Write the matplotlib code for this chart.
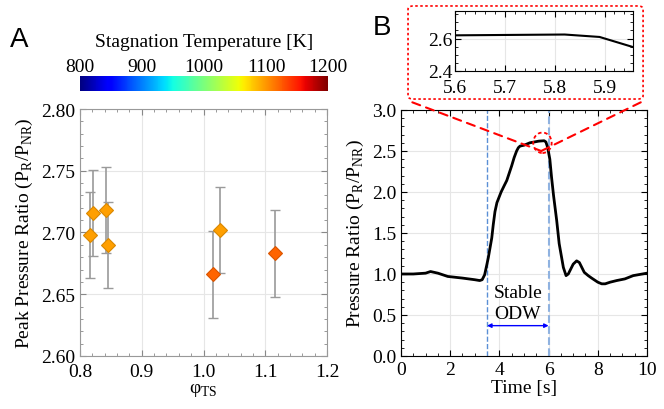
import numpy as np
import matplotlib
import matplotlib.pyplot as plt
from matplotlib.patches import Ellipse, FancyBboxPatch, ConnectionPatch
from matplotlib.ticker import MultipleLocator

plt.rcParams['font.family'] = ['Liberation Serif', 'DejaVu Serif']
plt.rcParams['mathtext.fontset'] = 'custom'
plt.rcParams['mathtext.rm'] = 'Liberation Serif'

# Panel A data
phi_ts = [0.816, 0.821, 0.842, 0.845, 1.016, 1.026, 1.115]
peak_ratio = [2.698, 2.716, 2.718, 2.690, 2.666, 2.702, 2.683]
peak_err = [0.035, 0.035, 0.035, 0.035, 0.035, 0.035, 0.035]
stag_temp = [1096, 1096, 1096, 1096, 1121, 1096, 1121]

# Panel B data
time_s = [0, 0.5, 1.0, 1.2, 1.5, 1.9, 2.5, 3.0, 3.2, 3.3, 3.4, 3.48, 3.55,
          3.62, 3.69, 3.75, 3.82, 3.9, 4.07, 4.2, 4.3, 4.5, 4.6, 4.7, 4.77,
          4.84, 5.0, 5.24, 5.6, 5.82, 5.89, 5.96, 6.05, 6.12, 6.2, 6.33,
          6.43, 6.53, 6.6, 6.71, 6.8, 6.9, 7.0, 7.14, 7.25, 7.35, 7.45, 7.61,
          7.75, 7.9, 8.0, 8.16, 8.3, 8.5, 8.77, 9.1, 9.44, 10.0]
pressure_ratio = [1.0, 1.0, 1.01, 1.03, 1.01, 0.97, 0.95, 0.93, 0.92, 0.93,
                  0.99, 1.10, 1.20, 1.32, 1.44, 1.60, 1.76, 1.87, 2.0, 2.08,
                  2.14, 2.32, 2.42, 2.50, 2.54, 2.56, 2.57, 2.60, 2.62, 2.625,
                  2.61, 2.545, 2.40, 2.18, 1.96, 1.65, 1.37, 1.20, 1.08, 0.98,
                  1.00, 1.06, 1.12, 1.16, 1.14, 1.08, 1.02, 0.98, 0.95, 0.92,
                  0.90, 0.88, 0.88, 0.90, 0.92, 0.94, 0.98, 1.01]
odw_start, odw_end = 3.5, 6.0

fig = plt.figure(figsize=(6.64, 4.10), dpi=100)
cmap = matplotlib.colormaps['jet']
norm = matplotlib.colors.Normalize(800, 1200)

# ---- Panel A ----
axA = fig.add_axes([0.1205, 0.1293, 0.372, 0.6024])
for x, y, e, T in zip(phi_ts, peak_ratio, peak_err, stag_temp):
    fc = np.array(cmap(norm(T)))
    ec = fc.copy()
    ec[:3] *= 0.85
    axA.errorbar(x, y, yerr=e, fmt='none', ecolor='#9a9a9a', elinewidth=1.2,
                 capsize=3.5, capthick=1.0, zorder=2)
    axA.plot(x, y, 'D', ms=7, mfc=fc, mec=ec, mew=0.8, zorder=3)
axA.set_xlim(0.8, 1.2)
axA.set_ylim(2.6, 2.8)
axA.xaxis.set_major_locator(MultipleLocator(0.1))
axA.xaxis.set_minor_locator(MultipleLocator(0.02))
axA.yaxis.set_major_locator(MultipleLocator(0.05))
axA.yaxis.set_minor_locator(MultipleLocator(0.01))
axA.grid(True, color='#e6e6e6', lw=0.8)
axA.set_axisbelow(True)
axA.tick_params(which='both', direction='in', top=True, right=True,
                color='#888888', labelsize=14)
axA.tick_params(which='major', length=4)
axA.tick_params(which='minor', length=2)
axA.tick_params(axis='x', pad=5)
for sp in axA.spines.values():
    sp.set_color('#999999')
axA.set_xlabel(r'φ$_\mathregular{TS}$', fontsize=14, labelpad=1)
axA.set_ylabel(r'Peak Pressure Ratio (P$_\mathregular{R}$/P$_\mathregular{NR}$)',
               fontsize=14)

# colorbar
cax = fig.add_axes([0.1205, 0.7756, 0.3735, 0.0366])
sm = matplotlib.cm.ScalarMappable(norm=norm, cmap=cmap)
cb = fig.colorbar(sm, cax=cax, orientation='horizontal')
cb.set_ticks([800, 900, 1000, 1100, 1200])
cax.xaxis.set_ticks_position('top')
cax.xaxis.set_label_position('top')
cax.tick_params(length=0, labelsize=14, pad=1)
cb.outline.set_visible(False)
cb.set_label('Stagnation Temperature [K]', fontsize=14, labelpad=8)

fig.text(0.015, 0.885, 'A', fontsize=20, family='Liberation Sans')

# ---- Panel B ----
axB = fig.add_axes([0.6039, 0.1293, 0.3705, 0.6])
axB.plot(time_s, pressure_ratio, color='black', lw=2, zorder=3)
axB.axvline(odw_start, color='#5b8fd6', ls='--', lw=1)
axB.axvline(odw_end, color='#8fb2e0', ls='--', lw=1.5)
axB.annotate('', xy=(odw_start, 0.37), xytext=(odw_end, 0.37),
             arrowprops=dict(arrowstyle='<|-|>', color='blue', lw=1,
                             mutation_scale=6, shrinkA=0, shrinkB=0))
axB.text((odw_start + odw_end) / 2, 0.65, 'Stable\nODW', ha='center',
         va='center', fontsize=14, linespacing=1.3)
axB.set_xlim(0, 10)
axB.set_ylim(0, 3)
axB.xaxis.set_major_locator(MultipleLocator(2))
axB.xaxis.set_minor_locator(MultipleLocator(0.5))
axB.yaxis.set_major_locator(MultipleLocator(0.5))
axB.yaxis.set_minor_locator(MultipleLocator(0.1))
axB.grid(True, color='#e6e6e6', lw=0.8)
axB.set_axisbelow(True)
axB.tick_params(which='both', direction='in', top=True, right=True,
                labelsize=14)
axB.tick_params(which='major', length=4)
axB.tick_params(which='minor', length=2)
axB.set_xlabel('Time [s]', fontsize=14, labelpad=1)
axB.set_ylabel(r'Pressure Ratio (P$_\mathregular{R}$/P$_\mathregular{NR}$)',
               fontsize=14)

ell = Ellipse((5.75, 2.6), 0.75, 0.25, fill=False, ec='red', ls=(0, (2, 1.5)),
              lw=1.3, zorder=4)
axB.add_patch(ell)

# zoom inset
axI = fig.add_axes([0.6852, 0.8244, 0.268, 0.1463])
axI.plot(time_s, pressure_ratio, color='black', lw=1.5)
axI.set_xlim(5.6, 5.957)
axI.set_ylim(2.4, 2.77)
axI.xaxis.set_major_locator(MultipleLocator(0.1))
axI.xaxis.set_minor_locator(MultipleLocator(0.02))
axI.yaxis.set_major_locator(MultipleLocator(0.2))
axI.yaxis.set_minor_locator(MultipleLocator(0.05))
axI.grid(True, color='#e6e6e6', lw=0.8)
axI.tick_params(which='both', direction='in', top=True, right=True,
                labelsize=14, pad=2)
axI.tick_params(axis='x', pad=6)
axI.tick_params(which='major', length=4)
axI.tick_params(which='minor', length=2)

box = FancyBboxPatch((0.6145, 0.756), 0.354, 0.227,
                     boxstyle='round,pad=0,rounding_size=0.008',
                     transform=fig.transFigure, fill=False, ec='red',
                     ls=(0, (1.5, 1.5)), lw=1.2)
fig.patches.append(box)

for xa in (0.621, 0.965):
    con = ConnectionPatch(xyA=(xa, 0.748), coordsA='figure fraction',
                          xyB=(5.7, 2.5), coordsB=axB.transData,
                          color='red', ls=(0, (4, 3)), lw=1.5)
    fig.add_artist(con)

fig.text(0.562, 0.915, 'B', fontsize=20, family='Liberation Sans')

fig.savefig('out.png', dpi=100)
